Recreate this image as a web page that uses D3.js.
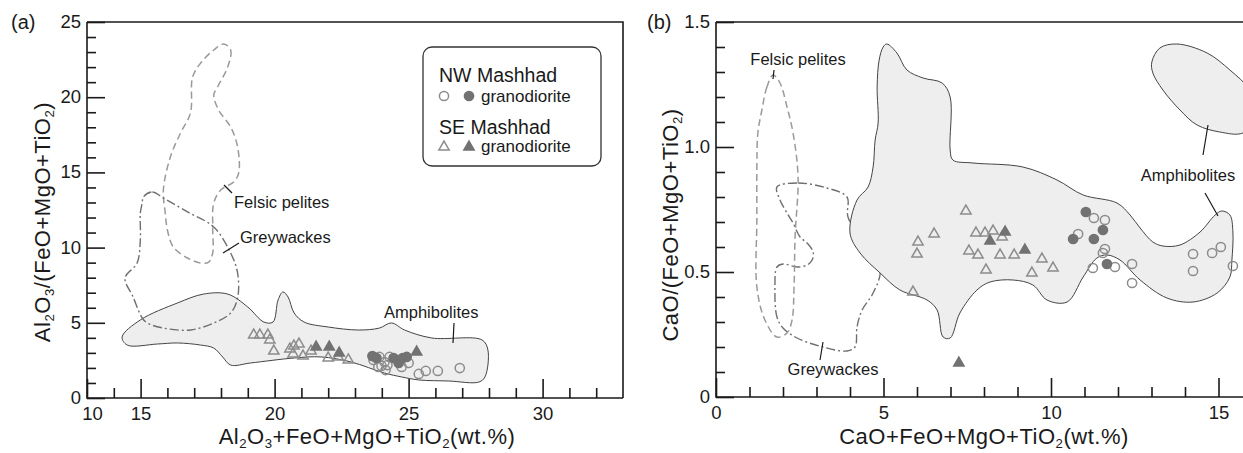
<!DOCTYPE html>
<html><head><meta charset="utf-8">
<script src="https://cdn.jsdelivr.net/npm/d3@7"></script>
<style>
body{margin:0;background:#fff}
svg{display:block;font-family:"Liberation Sans",Arial,sans-serif}
</style></head><body>
<svg id="chart" width="1243" height="453"></svg>
<script>
// ---------- Panel (a): Al2O3/(FeO+MgO+TiO2) vs Al2O3+FeO+MgO+TiO2 ----------
const aXTicks = [13, 15, 20, 25, 30];
const aXTickLabels = ["10", "15", "20", "25", "30"];
const aYTicks = [0, 5, 10, 15, 20, 25];

// NW Mashhad granodiorite (circles)
const aNwOpen = [[23.69,2.53],[23.91,2.73],[24.10,2.39],[23.87,2.06],[24.14,1.86],[24.29,2.73],
  [23.99,2.13],[24.21,2.19],[25.0,2.33],[24.74,2.06],[25.38,1.60],[25.64,1.80],[26.09,1.80],[26.91,1.99]];
const aNwFilled = [[23.65,2.79],[23.80,2.66],[24.44,2.66],[24.63,2.33],[24.78,2.66],[24.93,2.73]];
// SE Mashhad granodiorite (triangles)
const aSeOpen = [[19.22,4.19],[19.45,4.19],[19.75,4.19],[19.82,3.86],[19.97,3.12],[20.57,3.26],
  [20.72,3.46],[20.91,3.59],[20.69,2.93],[21.06,2.79],[21.36,3.12],[22.0,2.66],[22.37,2.73],[22.75,2.53]];
const aSeFilled = [[21.55,3.39],[22.04,3.39],[22.41,2.99],[25.30,3.06]];

// Reference fields
const aAmphibolites = [[14.31,4.06],[14.99,5.19],[16.38,6.32],[17.35,6.91],[18.25,6.91],[19.00,6.05],
  [19.60,5.05],[19.94,5.05],[20.13,6.52],[20.31,7.05],[20.50,6.72],[20.73,5.65],[21.10,5.05],[22.00,4.72],
  [23.13,4.52],[23.91,4.65],[24.36,4.99],[24.85,4.52],[25.86,3.99],[27.74,3.86],[27.96,3.19],[27.85,1.40],
  [27.62,1.06],[26.50,1.13],[25.38,1.20],[24.74,1.40],[24.10,1.66],[22.86,2.39],[21.74,2.73],[20.73,2.66],
  [19.11,2.33],[18.36,2.19],[18.06,2.73],[17.73,3.32],[17.24,3.52],[16.38,3.66],[15.63,3.59],[14.50,3.52]];
const aFelsicPelites = [[18.10,23.54],[18.36,23.14],[18.25,22.01],[17.87,20.68],[17.73,20.15],[17.91,19.15],
  [18.36,18.02],[18.62,16.69],[18.66,14.96],[18.47,14.36],[17.99,13.83],[17.73,12.97],[17.69,11.37],
  [17.69,9.64],[17.54,9.04],[17.24,8.98],[16.75,9.31],[16.22,10.04],[16.00,11.17],[15.92,12.30],
  [15.85,13.83],[16.11,16.02],[16.49,17.62],[16.86,18.95],[16.94,21.34],[17.24,22.27],[17.73,23.14]];
const aGreywackes = [[15.10,13.36],[15.44,13.70],[15.85,13.30],[16.75,12.37],[17.73,11.37],[18.36,9.64],
  [18.62,8.31],[18.62,6.65],[18.36,5.65],[17.73,4.99],[16.86,4.52],[15.85,4.65],[15.25,4.99],[15.06,5.32],
  [14.72,6.72],[14.42,7.98],[14.87,8.98],[14.99,10.51],[14.99,12.30],[15.06,12.97]];

// ---------- Panel (b): CaO/(FeO+MgO+TiO2) vs CaO+FeO+MgO+TiO2 ----------
const bXTicks = [0, 5, 10, 15];
const bYTicks = [0, 0.5, 1.0, 1.5];
const bYTickLabels = ["0", "0.5", "1.0", "1.5"];

const bNwOpen = [[11.28,0.716],[11.61,0.708],[10.81,0.652],[11.61,0.592],[11.55,0.576],[11.25,0.516],
  [11.91,0.520],[12.42,0.532],[12.42,0.456],[14.24,0.572],[14.24,0.504],[14.81,0.576],[15.07,0.600],[15.43,0.524]];
const bNwFilled = [[11.04,0.740],[10.66,0.632],[11.28,0.632],[11.55,0.668],[11.67,0.532]];
const bSeOpen = [[7.46,0.744],[6.51,0.652],[6.03,0.620],[6.00,0.572],[5.88,0.420],[7.76,0.656],[8.03,0.656],
  [8.27,0.664],[8.54,0.640],[7.55,0.584],[7.82,0.568],[8.48,0.568],[8.90,0.568],[8.06,0.508],[9.73,0.552],
  [10.06,0.516],[9.43,0.496]];
const bSeFilled = [[8.63,0.660],[8.18,0.624],[9.22,0.588],[7.25,0.136]];

const bAmphibolites = [[5.10,1.412],[5.40,1.376],[5.70,1.308],[6.18,1.276],[6.75,1.256],[6.99,1.200],
  [6.99,0.988],[7.07,0.948],[7.67,0.936],[9.16,0.920],[10.18,0.868],[10.96,0.808],[11.97,0.776],[12.36,0.728],
  [12.66,0.676],[13.04,0.620],[13.34,0.604],[13.85,0.608],[14.45,0.660],[14.90,0.728],[15.10,0.744],
  [15.34,0.728],[15.43,0.660],[15.40,0.548],[15.34,0.480],[14.96,0.416],[14.24,0.380],[13.46,0.396],
  [12.66,0.468],[12.06,0.548],[11.67,0.568],[11.37,0.556],[10.96,0.480],[10.48,0.380],[9.88,0.388],
  [9.46,0.448],[8.87,0.468],[8.18,0.460],[7.79,0.428],[7.28,0.336],[6.99,0.236],[6.78,0.240],[6.60,0.348],
  [6.30,0.388],[5.49,0.428],[4.90,0.496],[4.30,0.576],[4.00,0.656],[4.21,0.788],[4.54,0.840],[4.69,0.920],
  [4.75,1.028],[4.84,1.096],[4.81,1.240],[4.87,1.348],[4.99,1.400]];
const bAmphibolitesUpper = [[13.01,1.340],[13.25,1.396],[13.76,1.412],[14.66,1.376],[15.34,1.308],
  [15.94,1.228],[16.24,1.128],[15.73,1.056],[15.04,1.060],[14.36,1.088],[13.85,1.148],[13.34,1.228],[13.04,1.296]];
const bFelsicPelites = [[1.70,1.288],[1.52,1.240],[1.37,1.148],[1.25,1.056],[1.22,0.920],[1.22,0.708],
  [1.22,0.440],[1.46,0.308],[1.82,0.240],[2.12,0.256],[2.27,0.308],[2.33,0.440],[2.36,0.640],[2.45,0.880],
  [2.30,1.056],[2.12,1.160],[1.91,1.256]];
const bGreywackes = [[1.82,0.840],[2.45,0.856],[3.31,0.836],[3.91,0.800],[3.94,0.720],[4.45,0.608],
  [4.90,0.508],[4.69,0.416],[4.36,0.348],[4.21,0.280],[4.15,0.200],[3.91,0.184],[3.19,0.200],[2.42,0.236],
  [2.00,0.276],[1.82,0.320],[1.76,0.440],[1.82,0.520],[2.00,0.532],[2.42,0.520],[2.72,0.528],[2.87,0.548],
  [2.90,0.580],[2.72,0.616],[2.51,0.640],[2.30,0.696],[2.12,0.736],[1.91,0.788]];

// ---------- styles ----------
const INK = "#1a1a1a";
const FIELD_FILL = "#eeeeee";
const FIELD_STROKE = "#444";
const OPEN_STROKE = "#8c8c8c";
const SOLID_FILL = "#727272";
const TICK_FONT = 18.5;
const LABEL_FONT = 16.5;
const TITLE_FONT = 22;

const svg = d3.select("#chart");

// Text with chemical-formula subscripts, shifted with dy so the box stays tight
function richText(g, x, y, parts, opts) {
  const t = g.append("text").attr("x", x).attr("y", y)
    .attr("font-size", opts.size).attr("fill", opts.color || INK)
    .attr("text-anchor", opts.anchor || "middle")
    .attr("letter-spacing", opts.spacing || 0);
  if (opts.rotate) t.attr("transform", `rotate(${opts.rotate},${x},${y})`);
  let shifted = false;
  parts.forEach(([s, sub]) => {
    const ts = t.append("tspan").text(s);
    if (sub) {
      ts.attr("font-size", opts.size * 0.6).attr("dy", shifted ? 0 : 3.5);
      shifted = true;
    } else if (shifted) {
      ts.attr("dy", -3.5);
      shifted = false;
    }
  });
  return t;
}

function drawMarkers(g, x, y, data, kind, filled) {
  if (kind === "circle") {
    g.selectAll(null).data(data).join("circle")
      .attr("cx", d => x(d[0])).attr("cy", d => y(d[1])).attr("r", 4.6)
      .attr("fill", filled ? SOLID_FILL : "none")
      .attr("stroke", filled ? SOLID_FILL : OPEN_STROKE).attr("stroke-width", 1.5);
  } else {
    const sym = d3.symbol(d3.symbolTriangle, 46);
    g.selectAll(null).data(data).join("path")
      .attr("d", sym).attr("transform", d => `translate(${x(d[0])},${y(d[1])})`)
      .attr("fill", filled ? SOLID_FILL : "none")
      .attr("stroke", filled ? SOLID_FILL : OPEN_STROKE).attr("stroke-width", 1.5)
      .attr("stroke-linejoin", "miter");
  }
}

function fieldPath(x, y) {
  return d3.line().x(d => x(d[0])).y(d => y(d[1])).curve(d3.curveCatmullRomClosed.alpha(0.5));
}

function drawAxes(g, x, y, cfg) {
  const [x0, x1] = x.range();
  const [y0, y1] = y.range();
  // frame
  g.append("path")
    .attr("d", `M${x0},${y1}H${x1}` + (cfg.rightEdge ? `V${y0}` : ""))
    .attr("fill", "none").attr("stroke", INK).attr("stroke-width", 1.6);

  const styleAxis = (sel) => {
    sel.select(".domain").remove();
    sel.selectAll(".tick line").attr("stroke", INK).attr("stroke-width", 1.6);
    sel.selectAll(".tick text").attr("font-size", TICK_FONT).attr("fill", INK)
      .attr("font-family", "Liberation Sans, Arial, sans-serif");
  };
  // x axis (ticks point into the plot)
  const gx = g.append("g").attr("transform", `translate(0,${y0})`)
    .call(d3.axisBottom(x).tickValues(cfg.xTicks).tickSize(-19).tickPadding(9)
      .tickFormat((d, i) => cfg.xLabels[i]));
  styleAxis(gx);
  // the corner label sits just right of the y-axis zero label
  gx.selectAll(".tick text").attr("dx", (d, i) => (i === 0 && cfg.firstXShift) ? cfg.firstXShift : 0);
  const gxm = g.append("g").attr("transform", `translate(0,${y0})`)
    .call(d3.axisBottom(x).tickValues(cfg.xMinor).tickSize(-10).tickFormat(""));
  styleAxis(gxm);
  // y axis
  const gy = g.append("g").attr("transform", `translate(${x0},0)`)
    .call(d3.axisLeft(y).tickValues(cfg.yTicks).tickSize(-18).tickPadding(6)
      .tickFormat((d, i) => cfg.yLabels[i]));
  styleAxis(gy);
  gy.selectAll(".tick text").attr("dy", "0.3em");
  const gym = g.append("g").attr("transform", `translate(${x0},0)`)
    .call(d3.axisLeft(y).tickValues(cfg.yMinor).tickSize(-9).tickFormat(""));
  styleAxis(gym);
  // axis lines
  g.append("path").attr("d", `M${x0},${y1}V${y0}H${x1}`)
    .attr("fill", "none").attr("stroke", INK).attr("stroke-width", 1.6);
}

function leader(g, x1, y1, x2, y2) {
  g.append("line").attr("x1", x1).attr("y1", y1).attr("x2", x2).attr("y2", y2)
    .attr("stroke", INK).attr("stroke-width", 1.2);
}

function label(g, x, y, s, anchor) {
  g.append("text").attr("x", x).attr("y", y).attr("font-size", LABEL_FONT)
    .attr("text-anchor", anchor || "start").attr("fill", INK).text(s);
}

// ================= Panel (a) =================
{
  const x = d3.scaleLinear([13, 33], [87, 623]);
  const y = d3.scaleLinear([0, 25], [398, 22]);
  const g = svg.append("g");
  const line = fieldPath(x, y);

  g.append("path").attr("d", line(aAmphibolites))
    .attr("fill", FIELD_FILL).attr("stroke", FIELD_STROKE).attr("stroke-width", 1);
  g.append("path").attr("d", line(aFelsicPelites))
    .attr("fill", "none").attr("stroke", "#9a9a9a").attr("stroke-width", 1.5).attr("stroke-dasharray", "7,4");
  g.append("path").attr("d", line(aGreywackes))
    .attr("fill", "none").attr("stroke", "#6f6f6f").attr("stroke-width", 1.4).attr("stroke-dasharray", "9,3,2,3");

  drawMarkers(g, x, y, aSeOpen, "triangle", false);
  drawMarkers(g, x, y, aNwOpen, "circle", false);
  drawMarkers(g, x, y, aSeFilled, "triangle", true);
  drawMarkers(g, x, y, aNwFilled, "circle", true);

  drawAxes(g, x, y, {
    rightEdge: true,
    xTicks: aXTicks, xLabels: aXTickLabels, firstXShift: 5,
    xMinor: d3.range(14, 33).filter(v => v % 5 !== 0),
    yTicks: aYTicks, yLabels: aYTicks.map(String),
    yMinor: d3.range(1, 25).filter(v => v % 5 !== 0)
  });

  // field labels
  label(g, 234, 208, "Felsic pelites");
  leader(g, 224, 185, 232, 193);
  label(g, 240, 243, "Greywackes");
  leader(g, 223, 253, 239, 243);
  label(g, 384, 318, "Amphibolites");
  leader(g, 454, 323, 453, 343);

  // legend
  const lg = g.append("g");
  lg.append("rect").attr("x", 423).attr("y", 47).attr("width", 178).attr("height", 119).attr("rx", 9)
    .attr("fill", "#fff").attr("stroke", "#333").attr("stroke-width", 1.3);
  lg.append("text").attr("x", 439).attr("y", 82).attr("font-size", 19.5).attr("fill", INK).text("NW Mashhad");
  drawMarkers(lg, d => d, d => d, [[444, 96]], "circle", false);
  drawMarkers(lg, d => d, d => d, [[469, 96]], "circle", true);
  lg.append("text").attr("x", 481).attr("y", 102).attr("font-size", 17).attr("fill", INK).text("granodiorite");
  lg.append("text").attr("x", 439).attr("y", 134).attr("font-size", 19.5).attr("fill", INK).text("SE Mashhad");
  drawMarkers(lg, d => d, d => d, [[444, 147]], "triangle", false);
  drawMarkers(lg, d => d, d => d, [[469, 147]], "triangle", true);
  lg.append("text").attr("x", 481).attr("y", 152).attr("font-size", 17).attr("fill", INK).text("granodiorite");

  // titles
  g.append("text").attr("x", 11).attr("y", 29).attr("font-size", 20).attr("fill", INK).text("(a)");
  richText(g, 367, 444, [["Al"], ["2", 1], ["O"], ["3", 1], ["+FeO+MgO+TiO"], ["2", 1], ["(wt.%)"]],
    { size: TITLE_FONT, spacing: 0.5 });
  richText(g, 50, 222, [["Al"], ["2", 1], ["O"], ["3", 1], ["/(FeO+MgO+TiO"], ["2", 1], [")"]],
    { size: TITLE_FONT, spacing: 0.5, rotate: -90 });
}

// ================= Panel (b) =================
{
  const x = d3.scaleLinear([0, 16], [716, 1252]);
  const y = d3.scaleLinear([0, 1.5], [397, 22]);
  const g = svg.append("g");
  const line = fieldPath(x, y);

  g.append("path").attr("d", line(bGreywackes))
    .attr("fill", "none").attr("stroke", "#6f6f6f").attr("stroke-width", 1.4).attr("stroke-dasharray", "9,3,2,3");
  g.append("path").attr("d", line(bFelsicPelites))
    .attr("fill", "none").attr("stroke", "#9a9a9a").attr("stroke-width", 1.5).attr("stroke-dasharray", "7,4");
  g.append("path").attr("d", line(bAmphibolites))
    .attr("fill", FIELD_FILL).attr("stroke", FIELD_STROKE).attr("stroke-width", 1);
  g.append("path").attr("d", line(bAmphibolitesUpper))
    .attr("fill", FIELD_FILL).attr("stroke", FIELD_STROKE).attr("stroke-width", 1);

  drawMarkers(g, x, y, bSeOpen, "triangle", false);
  drawMarkers(g, x, y, bNwOpen, "circle", false);
  drawMarkers(g, x, y, bSeFilled, "triangle", true);
  drawMarkers(g, x, y, bNwFilled, "circle", true);

  drawAxes(g, x, y, {
    rightEdge: false,
    xTicks: bXTicks, xLabels: bXTicks.map(String),
    xMinor: d3.range(1, 16).filter(v => v % 5 !== 0),
    yTicks: bYTicks, yLabels: bYTickLabels,
    yMinor: d3.range(1, 15).filter(v => v % 5 !== 0).map(v => v / 10)
  });

  label(g, 798, 65, "Felsic pelites", "middle");
  leader(g, 774, 70, 773, 79);
  label(g, 833, 375, "Greywackes", "middle");
  leader(g, 823, 342, 820, 360);
  label(g, 1188, 181, "Amphibolites", "middle");
  leader(g, 1208, 125, 1203, 155);
  leader(g, 1205, 193, 1218, 216);

  g.append("text").attr("x", 647).attr("y", 29).attr("font-size", 20).attr("fill", INK).text("(b)");
  richText(g, 984, 444, [["CaO+FeO+MgO+TiO"], ["2", 1], ["(wt.%)"]], { size: TITLE_FONT, spacing: 0.5 });
  richText(g, 678, 225, [["CaO/(FeO+MgO+TiO"], ["2", 1], [")"]], { size: TITLE_FONT, spacing: 0.5, rotate: -90 });
}
</script>
</body></html>
